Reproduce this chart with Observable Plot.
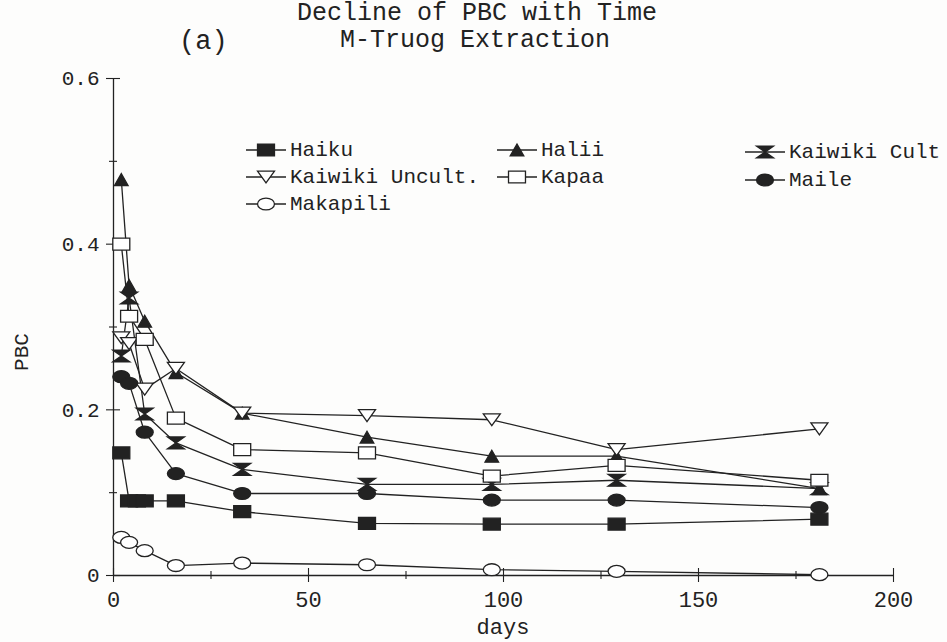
<!DOCTYPE html>
<html>
<head>
<meta charset="utf-8">
<script src="https://cdn.jsdelivr.net/npm/d3@7"></script>
<script src="https://cdn.jsdelivr.net/npm/@observablehq/plot@0.6"></script>
<style>
  html, body { margin: 0; padding: 0; background: #fdfdfc; }
  #wrap { position: relative; width: 947px; height: 642px; overflow: hidden;
          font-family: "Liberation Mono", "DejaVu Sans Mono", monospace; color: #222; }
  #wrap svg.plot { position: absolute; left: 0; top: 0; }
  .txt { position: absolute; white-space: pre; line-height: 1; }
  .legend-item { position: absolute; display: flex; align-items: center; font-size: 21px; }
</style>
</head>
<body>
<div id="wrap"></div>
<script>
// Sampling days (Haiku has one extra early sample)
const days = [2, 4, 8, 16, 33, 65, 97, 129, 181];
const daysHaiku = [2, 4, 6, 8, 16, 33, 65, 97, 129, 181];

// PBC values per soil
const haiku = [0.148, 0.090, 0.090, 0.090, 0.090, 0.077, 0.063, 0.062, 0.062, 0.068];
const halii = [0.478, 0.350, 0.307, 0.245, 0.196, 0.167, 0.144, 0.144, 0.105];
const kaiwikiCult = [0.265, 0.335, 0.195, 0.160, 0.128, 0.110, 0.110, 0.115, 0.105];
const kaiwikiUncult = [0.287, 0.280, 0.225, 0.250, 0.196, 0.193, 0.188, 0.152, 0.177];
const kapaa = [0.400, 0.313, 0.285, 0.190, 0.152, 0.148, 0.120, 0.133, 0.115];
const maile = [0.240, 0.232, 0.173, 0.123, 0.099, 0.099, 0.091, 0.091, 0.082];
const makapili = [0.046, 0.040, 0.030, 0.012, 0.015, 0.013, 0.007, 0.005, 0.001];

// Axis ticks
const xTicks = [0, 50, 100, 150, 200];
const xMinor = [25, 75, 125, 175];
const yTicks = [0, 0.2, 0.4, 0.6];
const yMinor = [0.1, 0.3, 0.5];

// Marker shapes: slightly wide, as drawn by the plotting package
const ink = "#222";
const aspect = 0.7;
function ellipse(ctx, rx, ry) {
  const k = 0.5523;
  ctx.moveTo(rx, 0);
  ctx.bezierCurveTo(rx, ry * k, rx * k, ry, 0, ry);
  ctx.bezierCurveTo(-rx * k, ry, -rx, ry * k, -rx, 0);
  ctx.bezierCurveTo(-rx, -ry * k, -rx * k, -ry, 0, -ry);
  ctx.bezierCurveTo(rx * k, -ry, rx, -ry * k, rx, 0);
  ctx.closePath();
}
const symRect = {draw(ctx, size) { const r = Math.sqrt(size / Math.PI); const h = r * aspect;
  ctx.moveTo(-r, -h); ctx.lineTo(r, -h); ctx.lineTo(r, h); ctx.lineTo(-r, h); ctx.closePath(); }};
const symEllipse = {draw(ctx, size) { const r = Math.sqrt(size / Math.PI); ellipse(ctx, r, r * aspect); }};
const symUp = {draw(ctx, size) { const r = Math.sqrt(size / Math.PI) * 0.8; const h = Math.sqrt(size / Math.PI) * aspect;
  ctx.moveTo(0, -h); ctx.lineTo(r, h); ctx.lineTo(-r, h); ctx.closePath(); }};
const symDown = {draw(ctx, size) { const r = Math.sqrt(size / Math.PI); const h = r * aspect;
  ctx.moveTo(-r, -h); ctx.lineTo(r, -h); ctx.lineTo(0, h); ctx.closePath(); }};
const symHourglass = {draw(ctx, size) { const r = Math.sqrt(size / Math.PI); const h = r * aspect;
  ctx.moveTo(-r, -h); ctx.lineTo(r, -h); ctx.lineTo(-r, h); ctx.lineTo(r, h); ctx.closePath(); }};

const series = [
  {name: "Haiku", x: daysHaiku, y: haiku, symbol: symRect, filled: true},
  {name: "Halii", x: days, y: halii, symbol: symUp, filled: true},
  {name: "Kaiwiki Cult", x: days, y: kaiwikiCult, symbol: symHourglass, filled: true},
  {name: "Kaiwiki Uncult.", x: days, y: kaiwikiUncult, symbol: symDown, filled: false},
  {name: "Kapaa", x: days, y: kapaa, symbol: symRect, filled: false},
  {name: "Maile", x: days, y: maile, symbol: symEllipse, filled: true},
  {name: "Makapili", x: days, y: makapili, symbol: symEllipse, filled: false}
];

const fontX = {fontFamily: "Liberation Mono, DejaVu Sans Mono, monospace", fontSize: 22};
const fontY = {fontFamily: "Liberation Mono, DejaVu Sans Mono, monospace", fontSize: 21};
const marks = [
  Plot.ruleY([0], {stroke: ink, strokeWidth: 1.3}),
  Plot.ruleX([0], {stroke: ink, strokeWidth: 1.3}),
  // crossing tick marks (outward ticks shifted half-way across the axis)
  Plot.axisX(xTicks, {tickSize: 14, dy: -7, tickFormat: () => "", label: null, stroke: ink, strokeWidth: 1.1}),
  Plot.axisX(xMinor, {tickSize: 8, dy: -4, tickFormat: () => "", label: null, stroke: ink, strokeWidth: 1.1}),
  Plot.axisX(xTicks, {tickSize: 0, tickPadding: 16, tickFormat: d3.format("d"), fill: ink, label: null, ...fontX}),
  Plot.axisY(yTicks, {tickSize: 14, dx: 7, tickFormat: () => "", label: null, stroke: ink, strokeWidth: 1.1}),
  Plot.axisY(yMinor, {tickSize: 8, dx: 4, tickFormat: () => "", label: null, stroke: ink, strokeWidth: 1.1}),
  Plot.axisY(yTicks, {tickSize: 0, tickPadding: 14, tickFormat: d => d === 0 ? "0" : d3.format(".1f")(d), fill: ink, label: null, ...fontY})
];
for (const s of series) {
  const rows = s.x.map((d, i) => ({day: d, pbc: s.y[i]}));
  marks.push(Plot.line(rows, {x: "day", y: "pbc", stroke: ink, strokeWidth: 1.3}));
}
for (const s of series) {
  const rows = s.x.map((d, i) => ({day: d, pbc: s.y[i]}));
  marks.push(Plot.dot(rows, {x: "day", y: "pbc", r: 8.5, symbol: s.symbol,
    fill: s.filled ? ink : "white", stroke: ink, strokeWidth: 1.3}));
}

const chart = Plot.plot({
  width: 947, height: 642,
  marginLeft: 113, marginRight: 54, marginTop: 78, marginBottom: 67,
  style: {background: "transparent", color: ink},
  x: {domain: [0, 200], axis: null, label: null},
  y: {domain: [0, 0.6], axis: null, label: null},
  marks
});
chart.classList.add("plot");
const wrap = document.getElementById("wrap");
wrap.appendChild(chart);

// Titles and axis labels
function addText(str, left, top, size, extra = "") {
  const el = document.createElement("div");
  el.className = "txt";
  el.textContent = str;
  el.style.cssText += `left:${left}px;top:${top}px;font-size:${size}px;${extra}`;
  wrap.appendChild(el);
  return el;
}
addText("Decline of PBC with Time", 477, 1, 25, "transform:translateX(-50%);");
addText("M-Truog Extraction", 475, 28, 25, "transform:translateX(-50%);");
addText("(a)", 179, 29, 27);
addText("days", 503, 618, 22, "transform:translateX(-50%);");
addText("PBC", 22, 352, 21, "transform:translate(-50%,-50%) rotate(-90deg);");

// Legend
const legendPos = {
  "Haiku": [246, 150], "Halii": [497, 150], "Kaiwiki Cult": [745, 152],
  "Kaiwiki Uncult.": [246, 177], "Kapaa": [497, 177], "Maile": [745, 180],
  "Makapili": [246, 204]
};
for (const s of series) {
  const [lx, ly] = legendPos[s.name];
  const item = document.createElement("div");
  item.className = "legend-item";
  item.style.left = lx + "px";
  item.style.top = (ly - 14) + "px";
  item.style.height = "28px";
  const svg = d3.create("svg").attr("width", 42).attr("height", 28).style("margin-right", "2px");
  svg.append("line").attr("x1", 0).attr("x2", 40).attr("y1", 14).attr("y2", 14)
    .attr("stroke", ink).attr("stroke-width", 1.3);
  svg.append("path").attr("transform", "translate(20,14)")
    .attr("d", d3.symbol(s.symbol, 72 * Math.PI)())
    .attr("fill", s.filled ? ink : "white").attr("stroke", ink).attr("stroke-width", 1.3);
  item.appendChild(svg.node());
  const label = document.createElement("span");
  label.textContent = s.name;
  item.appendChild(label);
  wrap.appendChild(item);
}
</script>
</body>
</html>
